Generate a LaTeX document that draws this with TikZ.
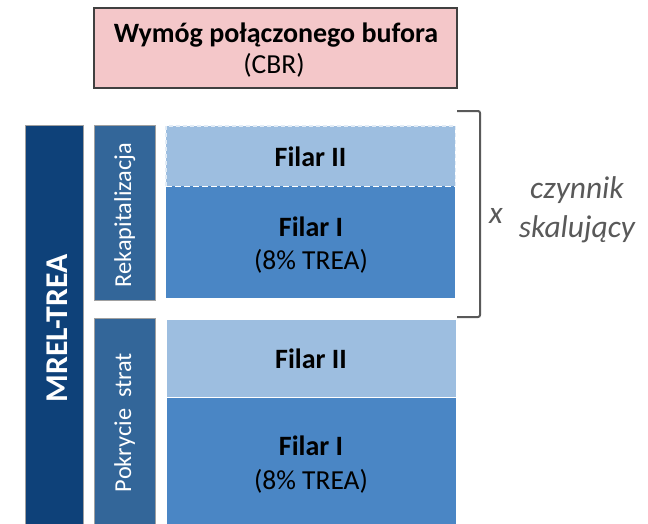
\documentclass[tikz,border=0pt]{standalone}
\usepackage{fontspec}
\setmainfont{Carlito}
\definecolor{cbrpink}{HTML}{F4C7C9}
\definecolor{mrelblue}{HTML}{0E4179}
\definecolor{midblue}{HTML}{336699}
\definecolor{darkfill}{HTML}{4A86C5}
\definecolor{lightfill}{HTML}{9DBEE0}
\definecolor{framegray}{HTML}{A0A0A0}
\definecolor{txtgray}{HTML}{595959}
\tikzset{
  cbrbox/.style={draw=black!75, line width=1.2pt, fill=cbrpink, inner sep=0pt},
  sidebar/.style={draw=framegray, line width=1.2pt, inner sep=0pt, text=white},
  pillar/.style={inner sep=0pt, align=center, text=black},
  lbl/.style={inner sep=0pt, anchor=base},
  boldlbl/.style={lbl, font=\fontsize{28}{32}\selectfont\bfseries},
  reglbl/.style={lbl, font=\fontsize{27.5}{32}\selectfont},
  sidelbl/.style={lbl, rotate=90, text=white, font=\fontsize{24.3}{28}\selectfont},
  bracketline/.style={draw=txtgray, line width=2pt, rounded corners=2pt},
  scaletext/.style={lbl, text=txtgray, font=\fontsize{31.5}{36}\selectfont\itshape}
}
\begin{document}
\begin{tikzpicture}[x=1pt,y=-1pt]
\useasboundingbox (0,0) rectangle (648,523);
% CBR
\node[cbrbox, minimum width=363pt, minimum height=80pt] (cbr) at (275.5,48) {};
\node[boldlbl] (cbrt1) at (276,42) {Wymóg połączonego bufora};
\node[reglbl] (cbrt2) at (274,73) {(CBR)};
% MREL bar
\node[sidebar, fill=mrelblue, minimum width=58pt, minimum height=420pt, anchor=north west] (mrel) at (25,125) {};
\node[lbl, rotate=90, text=white, font=\fontsize{31.7}{36}\selectfont\bfseries] (mrelt) at (67,328.5) {MREL-TREA};
% side boxes
\node[sidebar, fill=midblue, minimum width=61pt, minimum height=175pt, anchor=north west] (rek) at (94,125) {};
\node[sidelbl] (rekt) at (131,215) {Rekapitalizacja};
\node[sidebar, fill=midblue, minimum width=61pt, minimum height=220pt, anchor=north west] (pok) at (94,318) {};
\node[sidelbl] (pokt) at (131,422.5) {Pokrycie\ \ strat};
% upper pillars
\node[pillar, fill=lightfill, minimum width=289pt, minimum height=60pt, anchor=north west] (f2a) at (166,126) {};
\node[pillar, fill=darkfill, minimum width=289pt, minimum height=112pt, anchor=north west] (f1a) at (166,186) {};
\draw[white!70!lightfill, line width=1.3pt, dash pattern=on 4pt off 3pt] (f2a.south west) -- (f2a.north west) -- (f2a.north east) -- (f2a.south east);
\draw[white, line width=1.6pt, dash pattern=on 6pt off 3pt] (f2a.south west) -- (f2a.south east);
\node[boldlbl] (f2at) at (310.5,166) {Filar II};
\node[boldlbl] (f1at) at (311,236) {Filar I};
\node[reglbl] (f1at2) at (311,269) {(8\% TREA)};
% lower pillars
\node[pillar, fill=lightfill, minimum width=289pt, minimum height=77pt, anchor=north west] (f2b) at (167,320) {};
\node[pillar, fill=darkfill, minimum width=289pt, minimum height=130pt, anchor=north west] (f1b) at (167,398) {};
\node[boldlbl] (f2bt) at (311,368) {Filar II};
\node[boldlbl] (f1bt) at (311,455) {Filar I};
\node[reglbl] (f1bt2) at (311,489) {(8\% TREA)};
% bracket
\coordinate (bt) at (457,111);
\coordinate (bb) at (457,317);
\draw[bracketline] (bt) -- (480,111) -- (480,317) -- (bb);
\node[scaletext] (xs) at (496,223) {x};
\node[scaletext] (czt) at (577,198) {czynnik};
\node[scaletext] (skt) at (577,237) {skalujący};
\end{tikzpicture}
\end{document}
